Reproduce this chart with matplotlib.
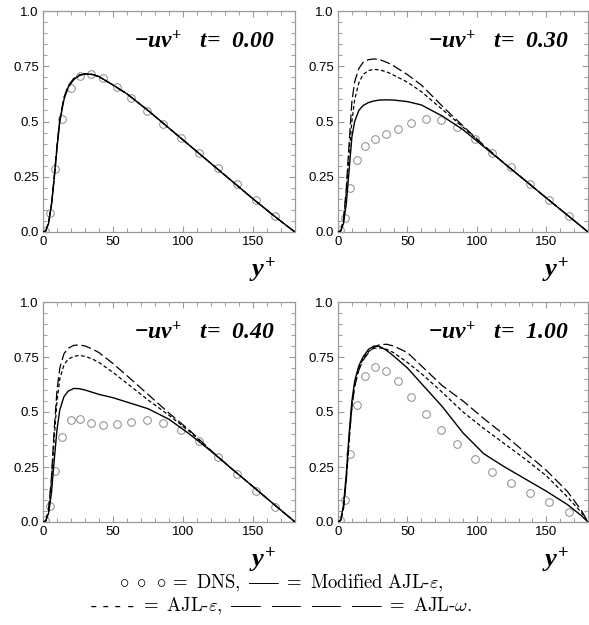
import matplotlib
matplotlib.use('Agg')
import matplotlib.pyplot as plt
from matplotlib.ticker import MultipleLocator

plt.rcParams['mathtext.fontset'] = 'custom'
plt.rcParams['mathtext.it'] = 'Liberation Serif:italic:bold'
plt.rcParams['mathtext.rm'] = 'Liberation Serif:bold'
plt.rcParams['mathtext.bf'] = 'Liberation Serif:bold'

# y+ grid for the model curves
yp = [0, 2, 4, 6, 8, 10, 12, 15, 18, 22, 26, 30, 35, 40, 50, 60, 75, 90, 105, 120, 135, 150, 165, 175, 180]
# DNS sampling positions
yp_dns = [1.5, 5, 8.8, 13.5, 19.7, 26.5, 34.5, 43.2, 52.6, 63.2, 74.3, 85.9, 98.6, 111.2, 124.8, 138.3, 152.2, 166]

times = ['0.00', '0.30', '0.40', '1.00']

# Modified AJL-eps (solid)
mod_eps = [
    [0, 0.005, 0.04, 0.12, 0.24, 0.38, 0.50, 0.60, 0.655, 0.69, 0.708, 0.715, 0.713, 0.703, 0.665, 0.625, 0.55, 0.47, 0.39, 0.31, 0.23, 0.15, 0.073, 0.024, 0],
    [0, 0.005, 0.04, 0.13, 0.28, 0.43, 0.50, 0.55, 0.572, 0.586, 0.593, 0.597, 0.598, 0.597, 0.59, 0.575, 0.525, 0.463, 0.386, 0.309, 0.232, 0.154, 0.077, 0.026, 0],
    [0, 0.005, 0.04, 0.13, 0.28, 0.42, 0.51, 0.57, 0.595, 0.607, 0.606, 0.6, 0.59, 0.58, 0.565, 0.545, 0.515, 0.467, 0.398, 0.322, 0.241, 0.161, 0.08, 0.027, 0],
    [0, 0.01, 0.08, 0.22, 0.40, 0.55, 0.64, 0.71, 0.75, 0.785, 0.80, 0.798, 0.78, 0.755, 0.70, 0.63, 0.525, 0.405, 0.31, 0.25, 0.195, 0.14, 0.08, 0.03, 0],
]
# AJL-eps (short dash)
ajl_eps = [
    [0, 0.005, 0.04, 0.12, 0.245, 0.385, 0.505, 0.605, 0.658, 0.692, 0.709, 0.715, 0.713, 0.703, 0.665, 0.625, 0.55, 0.47, 0.39, 0.31, 0.23, 0.15, 0.073, 0.024, 0],
    [0, 0.005, 0.05, 0.18, 0.36, 0.50, 0.60, 0.675, 0.712, 0.731, 0.736, 0.733, 0.725, 0.71, 0.678, 0.635, 0.555, 0.475, 0.39, 0.309, 0.232, 0.154, 0.077, 0.026, 0],
    [0, 0.005, 0.05, 0.18, 0.38, 0.55, 0.65, 0.715, 0.74, 0.753, 0.757, 0.753, 0.742, 0.725, 0.68, 0.63, 0.555, 0.485, 0.41, 0.323, 0.241, 0.161, 0.08, 0.027, 0],
    [0, 0.008, 0.07, 0.20, 0.38, 0.53, 0.625, 0.70, 0.74, 0.775, 0.79, 0.792, 0.785, 0.77, 0.725, 0.675, 0.59, 0.50, 0.425, 0.355, 0.285, 0.21, 0.115, 0.045, 0],
]
# AJL-omega (long dash)
ajl_om = [
    [0, 0.005, 0.045, 0.125, 0.25, 0.39, 0.51, 0.61, 0.662, 0.695, 0.711, 0.716, 0.714, 0.703, 0.665, 0.625, 0.55, 0.47, 0.39, 0.31, 0.23, 0.15, 0.073, 0.024, 0],
    [0, 0.005, 0.06, 0.20, 0.40, 0.59, 0.68, 0.74, 0.767, 0.78, 0.783, 0.78, 0.768, 0.752, 0.712, 0.665, 0.57, 0.48, 0.392, 0.309, 0.232, 0.154, 0.077, 0.026, 0],
    [0, 0.005, 0.06, 0.20, 0.42, 0.60, 0.70, 0.765, 0.79, 0.803, 0.805, 0.80, 0.787, 0.77, 0.72, 0.665, 0.58, 0.495, 0.415, 0.325, 0.241, 0.161, 0.08, 0.027, 0],
    [0, 0.008, 0.06, 0.19, 0.37, 0.52, 0.615, 0.69, 0.735, 0.77, 0.795, 0.806, 0.808, 0.80, 0.77, 0.71, 0.62, 0.55, 0.47, 0.395, 0.315, 0.235, 0.14, 0.055, 0],
]
dns = [
    [0.005, 0.086, 0.285, 0.512, 0.652, 0.707, 0.715, 0.696, 0.655, 0.605, 0.548, 0.489, 0.427, 0.357, 0.289, 0.217, 0.146, 0.074],
    [0.01, 0.063, 0.2, 0.327, 0.39, 0.42, 0.443, 0.467, 0.492, 0.51, 0.505, 0.473, 0.42, 0.357, 0.294, 0.217, 0.143, 0.071],
    [0.01, 0.074, 0.23, 0.387, 0.462, 0.47, 0.45, 0.44, 0.447, 0.455, 0.462, 0.452, 0.417, 0.369, 0.297, 0.217, 0.142, 0.068],
    [0.01, 0.098, 0.31, 0.53, 0.663, 0.706, 0.687, 0.64, 0.568, 0.492, 0.42, 0.354, 0.285, 0.229, 0.176, 0.131, 0.089, 0.045],
]

fig = plt.figure(figsize=(5.89, 6.25), dpi=100)
boxes = [
    [43 / 589, 393 / 625, 252 / 589, 221 / 625],
    [338 / 589, 393 / 625, 250 / 589, 221 / 625],
    [43 / 589, 103 / 625, 252 / 589, 220 / 625],
    [338 / 589, 103 / 625, 250 / 589, 220 / 625],
]
frame = '#9a9a9a'

for i in range(4):
    ax = fig.add_axes(boxes[i])
    ax.plot(yp_dns, dns[i], 'o', mfc='none', mec='#8a8a8a', ms=5.5, mew=0.7, zorder=2)
    ax.plot(yp, mod_eps[i], '-', color='k', lw=1.0, zorder=3)
    ax.plot(yp, ajl_eps[i], '-', color='k', lw=0.9, dashes=(3, 2), zorder=3)
    ax.plot(yp, ajl_om[i], '-', color='k', lw=0.9, dashes=(8, 3), zorder=3)

    ax.set_xlim(0, 180)
    ax.set_ylim(0, 1)
    ax.xaxis.set_major_locator(MultipleLocator(50))
    ax.xaxis.set_minor_locator(MultipleLocator(10))
    ax.set_yticks([0, 0.25, 0.5, 0.75, 1.0])
    ax.set_yticklabels(['0.0', '0.25', '0.5', '0.75', '1.0'])
    ax.yaxis.set_minor_locator(MultipleLocator(0.05))
    ax.tick_params(which='both', direction='in', top=True, right=True, color=frame,
                   labelsize=9.5, pad=3)
    ax.tick_params(which='major', length=4, width=0.8)
    ax.tick_params(which='minor', length=3, width=0.7)
    for lab in ax.get_xticklabels() + ax.get_yticklabels():
        lab.set_family('Liberation Sans')
    for s in ax.spines.values():
        s.set_color(frame)
        s.set_linewidth(0.9)

    ax.text(0.92, 0.86, r'$-uv^{+}$   $t$=  ' + times[i], transform=ax.transAxes,
            ha='right', va='center', fontsize=17, family='Liberation Serif',
            fontweight='bold', fontstyle='italic')
    ax.text(0.87, -0.17, r'$y^{+}$', transform=ax.transAxes, ha='center', va='center',
            fontsize=19)

dash = '\u2014' + r'\!\!\!' + '\u2014'
line1 = (r'$\circ\;\circ\;\circ =\ \mathrm{DNS},\ ' + dash
         + r'\ =\ \mathrm{Modified\ AJL}$-$\varepsilon,$')
line2 = (r'- - - - $=\ \mathrm{AJL}$-$\varepsilon,\ ' + dash + r'\ \ ' + dash + r'\ \ '
         + dash + r'\ \ ' + dash + r'\ =\ \mathrm{AJL}$-$\omega.$')
fig.text(0.477, 0.067, line1, ha='center', va='center', fontsize=13.5,
         family=['cmr10', 'DejaVu Serif'], math_fontfamily='cm')
fig.text(0.477, 0.030, line2, ha='center', va='center', fontsize=13.5,
         family=['cmr10', 'DejaVu Serif'], math_fontfamily='cm')

fig.savefig('out.png', dpi=100)
